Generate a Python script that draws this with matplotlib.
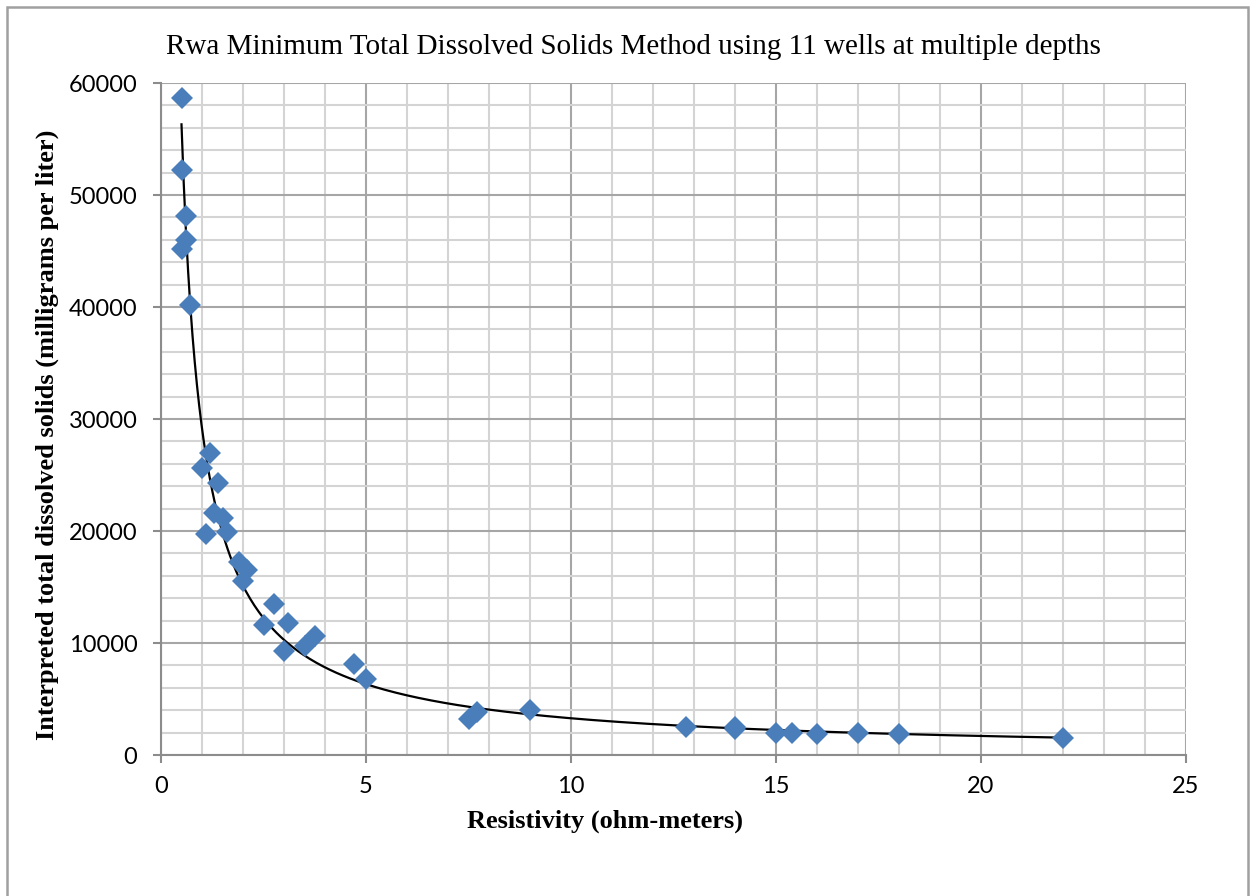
import numpy as np
import matplotlib
matplotlib.use("Agg")
import matplotlib.pyplot as plt
from matplotlib.patches import Rectangle
from matplotlib.ticker import MultipleLocator

# ── Data ───────────────────────────────────────────────────────────
resistivity = [0.5, 0.5, 0.6, 0.6, 0.5, 0.7,
               1.2, 1.0, 1.4, 1.3, 1.5, 1.1, 1.6,
               1.9, 2.1, 2.0, 2.75, 2.5, 3.1, 3.75, 3.5, 3.0,
               4.7, 5.0, 7.5, 7.7, 9.0,
               12.8, 14.0, 14.0, 15.0, 15.4, 16.0, 17.0, 18.0, 22.0]
tds = [58700, 52200, 48100, 46000, 45200, 40200,
       27000, 25600, 24300, 21600, 21200, 19700, 19900,
       17200, 16500, 15500, 13500, 11600, 11800, 10600, 9700, 9300,
       8100, 6800, 3200, 3800, 4000,
       2500, 2300, 2500, 2000, 2000, 1900, 2000, 1900, 1500]

TITLE = "Rwa Minimum Total Dissolved Solids Method using 11 wells at multiple depths"
XLABEL = "Resistivity (ohm-meters)"
YLABEL = "Interpreted total dissolved solids (milligrams per liter)"

MARKER_COLOR = "#4A7EBB"
MAJOR_GRID = "#A6A6A6"
MINOR_GRID = "#D4D4D4"
SERIF = ["Liberation Serif", "DejaVu Serif"]
TICKFONT = ["Lato", "DejaVu Sans"]

fig = plt.figure(figsize=(12.53, 8.96), dpi=100)
ax = fig.add_axes([161 / 1253, 1 - 755 / 896, (1186 - 161) / 1253, (755 - 83) / 896])

# outer chart frame
fig.patches.append(Rectangle((7 / 1253, -0.01), 1241 / 1253, 1 - 7 / 896 + 0.01,
                             transform=fig.transFigure, fill=False,
                             edgecolor="#A0A0A0", linewidth=1.8))

x = np.array(resistivity)
y = np.array(tds)

# power trendline fitted to the points (like Excel's power trendline)
b, loga = np.polyfit(np.log(x), np.log(y), 1)
xf = np.linspace(x.min(), x.max(), 400)
ax.plot(xf, np.exp(loga) * xf ** b, color="black", linewidth=1.6, zorder=3)

ax.plot(x, y, linestyle="none", marker="D", markersize=11,
        color=MARKER_COLOR, markeredgewidth=0, zorder=4)

ax.set_xlim(0, 25)
ax.set_ylim(0, 60000)
ax.xaxis.set_major_locator(MultipleLocator(5))
ax.xaxis.set_minor_locator(MultipleLocator(1))
ax.yaxis.set_major_locator(MultipleLocator(10000))
ax.yaxis.set_minor_locator(MultipleLocator(2000))

ax.grid(which="major", color=MAJOR_GRID, linewidth=1.5, zorder=1)
ax.grid(which="minor", color=MINOR_GRID, linewidth=1.5, zorder=1)
ax.set_axisbelow(True)

for side in ("top", "right"):
    ax.spines[side].set_visible(False)
for side in ("left", "bottom"):
    ax.spines[side].set_color("#8C8C8C")
    ax.spines[side].set_linewidth(1.5)

ax.tick_params(which="major", direction="out", length=6, width=1.5,
               color="#8C8C8C")
ax.tick_params(which="minor", length=0)
for lbl in ax.get_xticklabels() + ax.get_yticklabels():
    lbl.set_family(TICKFONT)
    lbl.set_fontsize(17)
    lbl.set_color("black")
ax.tick_params(axis="x", pad=9)
ax.tick_params(axis="y", pad=11)

ax.set_xlabel(XLABEL, family=SERIF, fontweight="bold", fontsize=19, va="center")
ax.xaxis.set_label_coords((605 - 161) / 1025, (755 - 821) / 672)
ax.set_ylabel(YLABEL, family=SERIF, fontweight="bold", fontsize=19, va="center")
ax.yaxis.set_label_coords((47 - 161) / 1025, (755 - 435) / 672)

fig.text(633 / 1253, 1 - 47 / 896, TITLE, family=SERIF, fontsize=21,
         ha="center", va="center")

fig.savefig("out.png", dpi=100)
